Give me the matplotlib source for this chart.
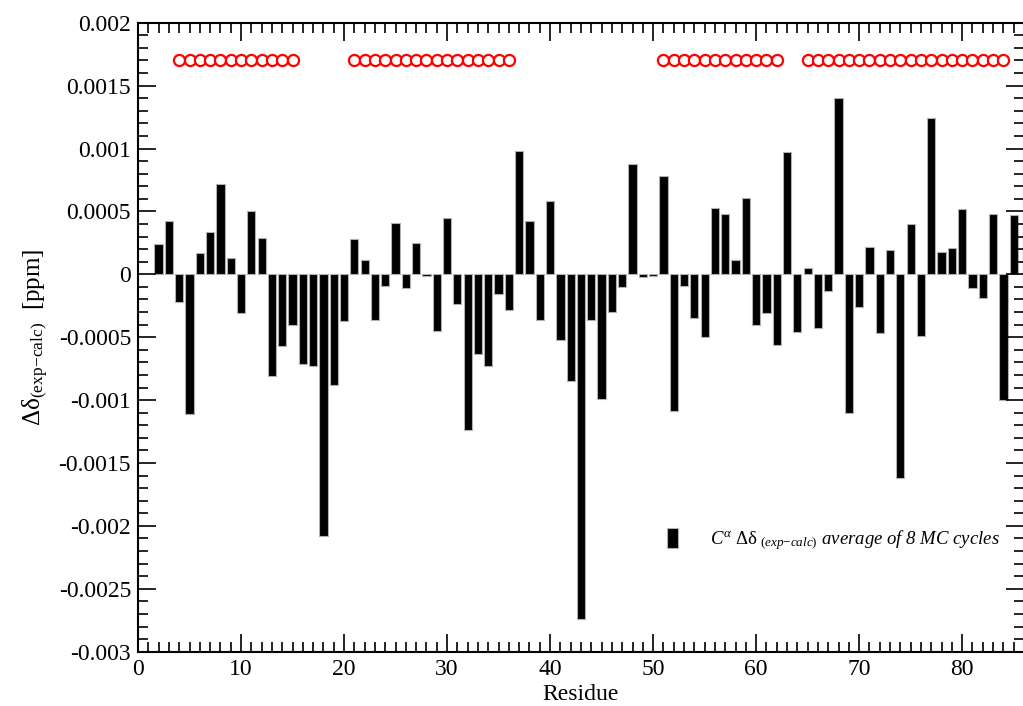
import numpy as np
import matplotlib
matplotlib.use('Agg')
import matplotlib.pyplot as plt
from matplotlib.ticker import MultipleLocator

# Residue numbers and C-alpha chemical shift differences (ppm)
residues = list(range(2, 86))
delta = [
    0.00024, 0.00042, -0.00022, -0.00111, 0.00017, 0.00034, 0.00072, 0.00013,   # 2-9
    -0.00031, 0.00050, 0.00029, -0.00081, -0.00057, -0.00040, -0.00071, -0.00073,  # 10-17
    -0.00208, -0.00088, -0.00037, 0.00028, 0.00011, -0.00036, -0.00009, 0.00041,  # 18-25
    -0.00011, 0.00025, -0.00001, -0.00045, 0.00045, -0.00024, -0.00124, -0.00063,  # 26-33
    -0.00073, -0.00016, -0.00028, 0.00098, 0.00042, -0.00036, 0.00058, -0.00052,  # 34-41
    -0.00085, -0.00274, -0.00036, -0.00099, -0.00030, -0.00010, 0.00088, -0.00002,  # 42-49
    -0.00001, 0.00078, -0.00109, -0.00009, -0.00035, -0.00050, 0.00053, 0.00048,  # 50-57
    0.00011, 0.00061, -0.00040, -0.00031, -0.00056, 0.00097, -0.00046, 0.00005,   # 58-65
    -0.00043, -0.00013, 0.00140, -0.00110, -0.00026, 0.00022, -0.00047, 0.00019,  # 66-73
    -0.00162, 0.00040, -0.00049, 0.00124, 0.00018, 0.00021, 0.00052, -0.00011,    # 74-81
    -0.00019, 0.00048, -0.00100, 0.00047,                                          # 82-85
]

# helix segments shown as red circles
helix_res = list(range(4, 16)) + list(range(21, 37)) + list(range(51, 63)) + list(range(65, 85))
helix_level = 0.0017

ytick_vals = [-0.003, -0.0025, -0.002, -0.0015, -0.001, -0.0005, 0, 0.0005, 0.001, 0.0015, 0.002]
ytick_labels = ['-0.003', '-0.0025', '-0.002', '-0.0015', '-0.001', '-0.0005', '0',
                '0.0005', '0.001', '0.0015', '0.002']

plt.rcParams['font.family'] = ['Liberation Serif', 'DejaVu Serif']
plt.rcParams['mathtext.fontset'] = 'custom'
plt.rcParams['mathtext.rm'] = 'Liberation Serif'
plt.rcParams['mathtext.it'] = 'Liberation Serif:italic'
plt.rcParams['mathtext.bf'] = 'Liberation Serif:bold'

fig = plt.figure(figsize=(10.23, 7.06), dpi=100)
ax = fig.add_axes([138 / 1023, 1 - 651.7 / 706, 886 / 1023, 629 / 706])

bars = ax.bar(residues, delta, width=0.8, color='black', edgecolor='#b0b0b0', linewidth=0.8,
              label='$C^{\\alpha}$ $\\mathrm{\\Delta\\delta}_{\\ (exp\\mathrm{-}calc)}$ average of 8 MC cycles')
ax.plot(helix_res, [helix_level] * len(helix_res), linestyle='none', marker='o',
        markersize=8, markerfacecolor='white', markeredgecolor='red', markeredgewidth=1.6)

ax.set_xlim(0, 86)
ax.set_ylim(-0.003, 0.002)
ax.xaxis.set_major_locator(MultipleLocator(10))
ax.xaxis.set_minor_locator(MultipleLocator(1))
ax.yaxis.set_minor_locator(MultipleLocator(0.0001))
ax.set_yticks(ytick_vals)
ax.set_yticklabels(ytick_labels)

ax.tick_params(which='both', direction='in', top=True, right=True, labelsize=17)
ax.tick_params(which='major', length=13, width=1.2, pad=5)
ax.tick_params(which='minor', length=7, width=1.2)
for s in ax.spines.values():
    s.set_linewidth(1.5)

ax.set_xlabel('Residue', fontsize=17, labelpad=3)
ax.set_ylabel('Δδ$_{\\mathrm{(exp}\\mathrm{-}\\mathrm{calc)}}$  [ppm]', fontsize=18, labelpad=6)

ax.legend(handles=[bars], loc='center left', bbox_to_anchor=(0.578, 0.178), frameon=False,
          handlelength=0.6, handleheight=1.3, handletextpad=1.7,
          prop={'style': 'italic', 'size': 13.5})

plt.savefig('out.png', dpi=100)
